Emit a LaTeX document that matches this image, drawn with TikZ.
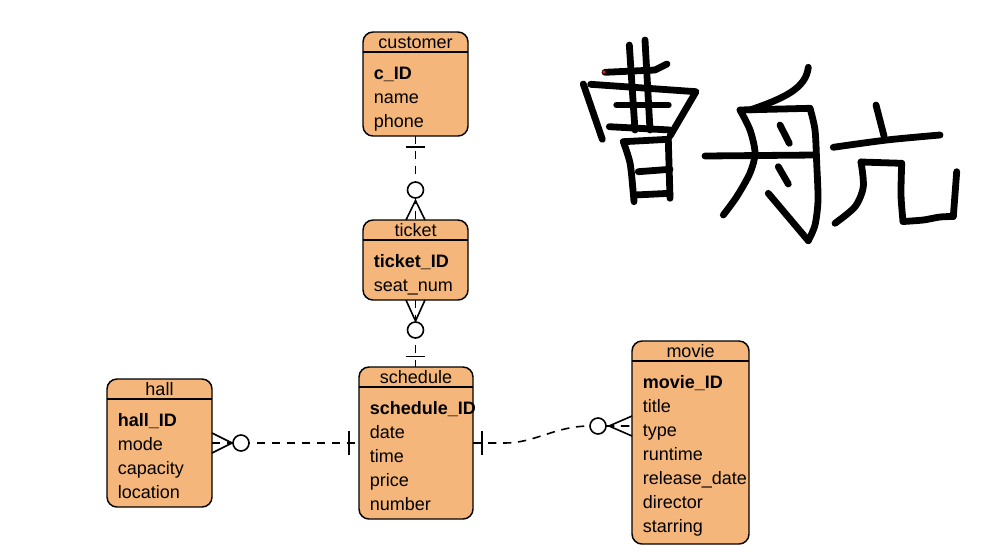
\documentclass[tikz,border=0pt]{standalone}
\usepackage{fontspec}
\setmainfont{Liberation Sans}
\usetikzlibrary{calc}
\definecolor{entfill}{HTML}{F4B67A}
\definecolor{inkred}{HTML}{E02020}
\tikzset{
  entbox/.style={draw, line width=1.1pt, fill=entfill, rounded corners=7.5pt, inner sep=0pt, outer sep=0pt, anchor=north west},
  enttitle/.style={anchor=base, inner sep=0pt, font=\fontsize{13.5pt}{16pt}\selectfont},
  attr/.style={anchor=base west, inner sep=0pt, font=\fontsize{13.5pt}{16pt}\selectfont},
  keyattr/.style={anchor=base west, inner sep=0pt, font=\fontsize{13.5pt}{16pt}\selectfont\bfseries},
  conn/.style={line width=1.2pt, dash pattern=on 6.25pt off 5pt},
  crowmark/.style={line width=1.2pt, solid},
  ring/.style={line width=1.2pt, solid, fill=white},
  ink/.style={line width=5.1pt, line cap=round, line join=round}
}
\newcommand\erbox[8]{%
  \node[entbox, minimum width=#4*0.75pt, minimum height=#5*0.75pt] (#1) at (#2,#3) {};
  \draw[line width=1.1pt] ([yshift=-15pt]#1.north west) -- ([yshift=-15pt]#1.north east);
  \node[enttitle] (#1-title) at ([yshift=-12pt]#1.north) {#6};
  \node[keyattr] (#1-k) at ($(#1.north west)+(10.5,47)$) {#7};
  \foreach \t [count=\i] in {#8} {\node[attr] (#1-a\i) at ($(#1.north west)+(10.5,47+24*\i)$) {\t};}
}
\begin{document}
\begin{tikzpicture}[x=0.75pt,y=-0.75pt]
\useasboundingbox[fill=white] (0,0) rectangle (988,558);

% entities
\erbox{customer}{363}{32}{105}{104}{customer}{c\_ID}{name,phone}
\erbox{ticket}{363}{220}{105}{80}{ticket}{ticket\_ID}{seat\_num}
\erbox{schedule}{359}{367}{114}{152}{schedule}{schedule\_ID}{date,time,price,number}
\erbox{hall}{107}{379}{105}{128}{hall}{hall\_ID}{mode,capacity,location}
\erbox{movie}{632}{341}{117}{203}{movie}{movie\_ID}{title,type,runtime,release\_date,director,starring}

% customer -- ticket
\draw[conn] (customer.south) -- (ticket.north);
\draw[crowmark] ($(customer.south)+(-9.5,11)$) -- ++(19,0);
\draw[crowmark] ($(ticket.north)+(-9.5,0)$) -- ($(ticket.north)+(0,-19.5)$) -- ($(ticket.north)+(9.5,0)$);
\draw[ring] ($(ticket.north)+(0,-30)$) circle[radius=6pt];

% ticket -- schedule
\draw[conn] (ticket.south) -- (ticket.south|-schedule.north);
\draw[crowmark] ($(ticket.south)+(-9.5,0)$) -- ($(ticket.south)+(0,21)$) -- ($(ticket.south)+(9.5,0)$);
\draw[ring] ($(ticket.south)+(0,30)$) circle[radius=6pt];
\draw[crowmark] ($(ticket.south|-schedule.north)+(-9.5,-10.5)$) -- ++(19,0);

% hall -- schedule
\draw[conn] (hall.east) -- (schedule.west);
\draw[crowmark] ($(hall.east)+(0,-10)$) -- ($(hall.east)+(20,0)$) -- ($(hall.east)+(0,10)$);
\draw[ring] ($(hall.east)+(29,0)$) circle[radius=6pt];
\draw[crowmark] ($(schedule.west)+(-10,-12)$) -- ++(0,24);

% schedule -- movie
\coordinate (mv) at ($(movie.west)+(0,-16.5)$);
\draw[conn] (schedule.east) -- ++(32,0) .. controls ++(30,0) and ($(mv)+(-77,0)$) .. ($(mv)+(-42,0)$) -- (mv);
\draw[crowmark] ($(schedule.east)+(9,-12)$) -- ++(0,24);
\draw[crowmark] ($(mv)+(0,-10)$) -- ($(mv)+(-23,0)$) -- ($(mv)+(0,10)$);
\draw[ring] ($(mv)+(-34,0)$) circle[radius=6pt];

% handwriting, first character
\draw[ink] (583.3,84) -- (602.3,139.3);
\draw[ink] (590.7,84.3) -- (696,91.7) -- (670,136);
\draw[ink] (605,72.3) -- (655,70) -- (667,64);
\draw[ink] (629.3,45) -- (635,130);
\draw[ink] (645,40) -- (650,130);
\draw[ink] (616.7,105) -- (668.3,105);
\draw[ink] (609.3,126.7) -- (670,130);
\draw[ink] plot[smooth] coordinates {(623.3,141.7) (630,163) (633,190) (634,201.7)};
\draw[ink] (623.3,141.7) -- (668.3,139.3);
\draw[ink] (668.3,140) -- (670,198.3);
\draw[ink] (638.3,171.7) -- (670,169.3);
\draw[ink] (635,195) -- (670,193.3);
\fill[inkred] (604,72) circle[radius=1.4pt];

% second character
\draw[ink] (808.3,67.3) .. controls (806,88) and (785,98) .. (750,110);
\draw[ink] (740,110) -- (810,108.3);
\draw[ink] plot[smooth] coordinates {(740,110) (750,130) (755,153) (750,173) (736.7,196.7) (723.3,215)};
\draw[ink] plot[smooth] coordinates {(810,108.3) (815,130) (816.7,163.3) (818,200) (815,225) (808.3,240.7)};
\draw[ink] (768.3,193.3) -- (808.3,240.7);
\draw[ink] (705,156) -- (815,155);
\draw[ink] (780,125) -- (789.3,143.3);
\draw[ink] (778.3,166.7) -- (788.3,184);

% third character
\draw[ink] (876,105) -- (884,136);
\draw[ink] plot[smooth] coordinates {(833.3,147.3) (886.7,140) (940,135)};
\draw[ink] plot[smooth] coordinates {(861,162) (863.3,186.7) (855,206.7) (835,223.3)};
\draw[ink] (861,162) -- (901.7,163.3);
\draw[ink] plot[smooth] coordinates {(901.7,163.3) (901,195) (903,221.5)};
\draw[ink] plot[smooth] coordinates {(903,221.5) (923.3,220) (940,217) (953.3,216.5)};
\draw[ink] (953.3,216.5) -- (956.7,171.7);
\end{tikzpicture}
\end{document}
